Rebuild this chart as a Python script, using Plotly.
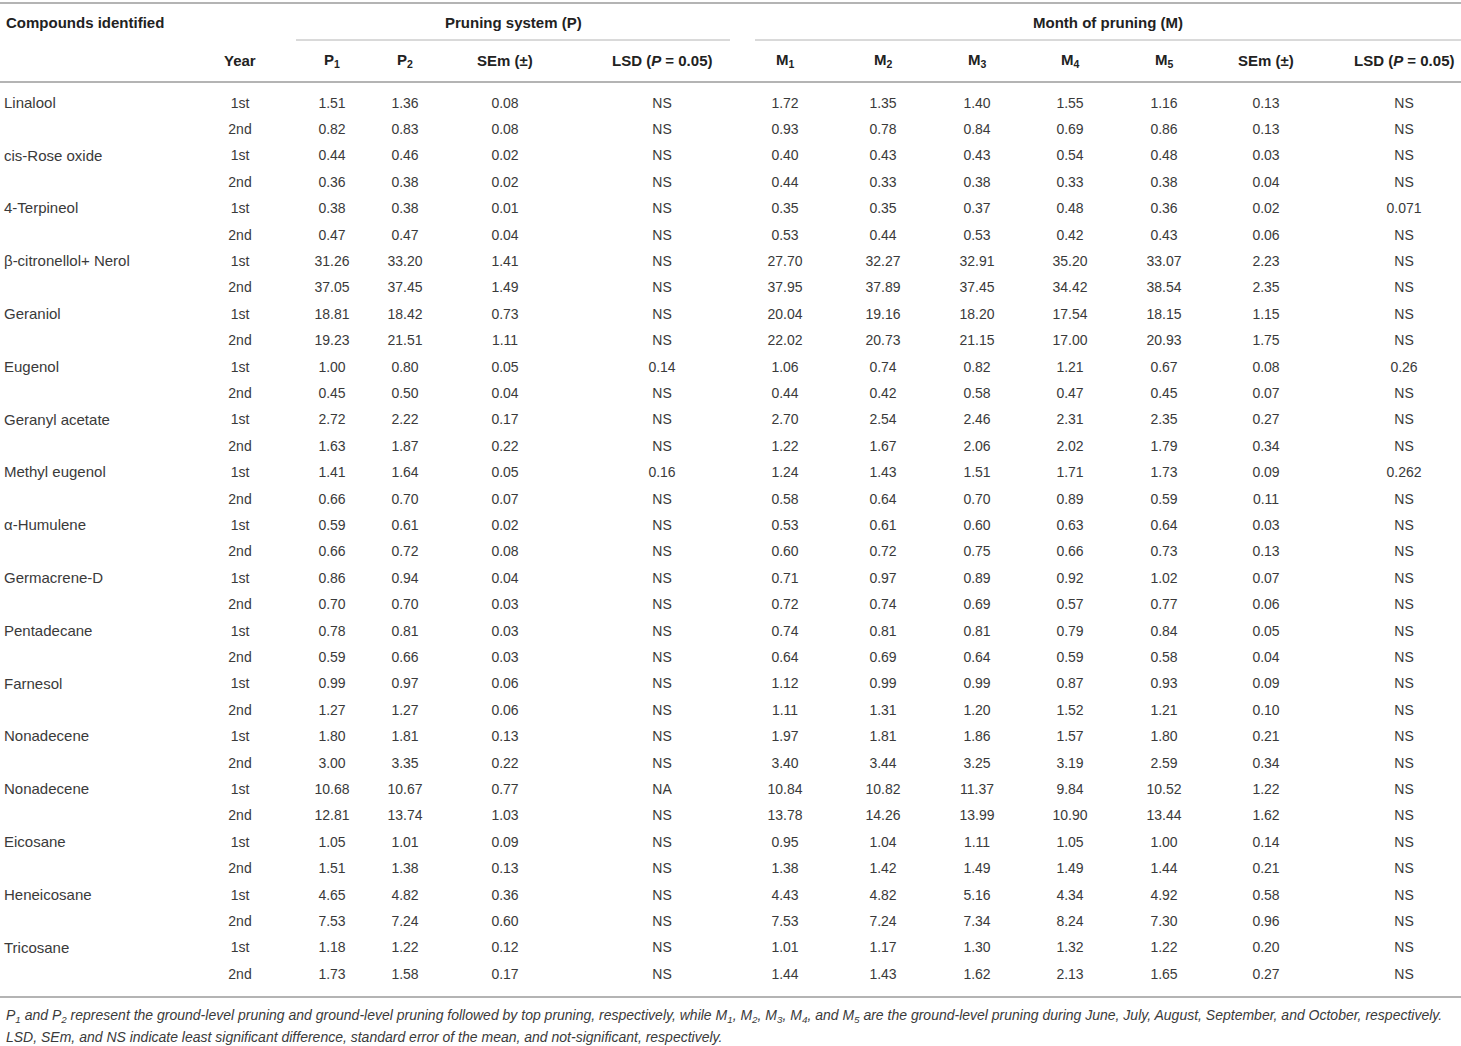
import plotly.graph_objects as go

# ---- table data ---------------------------------------------------------
compounds = [
    "Linalool", "cis-Rose oxide", "4-Terpineol", "β-citronellol+ Nerol",
    "Geraniol", "Eugenol", "Geranyl acetate", "Methyl eugenol",
    "α-Humulene", "Germacrene-D", "Pentadecane", "Farnesol",
    "Nonadecene", "Nonadecene", "Eicosane", "Heneicosane", "Tricosane",
]
years = ["1st", "2nd"] * len(compounds)

p1 = ["1.51", "0.82", "0.44", "0.36", "0.38", "0.47", "31.26", "37.05",
      "18.81", "19.23", "1.00", "0.45", "2.72", "1.63", "1.41", "0.66",
      "0.59", "0.66", "0.86", "0.70", "0.78", "0.59", "0.99", "1.27",
      "1.80", "3.00", "10.68", "12.81", "1.05", "1.51", "4.65", "7.53",
      "1.18", "1.73"]
p2 = ["1.36", "0.83", "0.46", "0.38", "0.38", "0.47", "33.20", "37.45",
      "18.42", "21.51", "0.80", "0.50", "2.22", "1.87", "1.64", "0.70",
      "0.61", "0.72", "0.94", "0.70", "0.81", "0.66", "0.97", "1.27",
      "1.81", "3.35", "10.67", "13.74", "1.01", "1.38", "4.82", "7.24",
      "1.22", "1.58"]
sem_p = ["0.08", "0.08", "0.02", "0.02", "0.01", "0.04", "1.41", "1.49",
         "0.73", "1.11", "0.05", "0.04", "0.17", "0.22", "0.05", "0.07",
         "0.02", "0.08", "0.04", "0.03", "0.03", "0.03", "0.06", "0.06",
         "0.13", "0.22", "0.77", "1.03", "0.09", "0.13", "0.36", "0.60",
         "0.12", "0.17"]
lsd_p = ["NS", "NS", "NS", "NS", "NS", "NS", "NS", "NS",
         "NS", "NS", "0.14", "NS", "NS", "NS", "0.16", "NS",
         "NS", "NS", "NS", "NS", "NS", "NS", "NS", "NS",
         "NS", "NS", "NA", "NS", "NS", "NS", "NS", "NS",
         "NS", "NS"]

m1 = ["1.72", "0.93", "0.40", "0.44", "0.35", "0.53", "27.70", "37.95",
      "20.04", "22.02", "1.06", "0.44", "2.70", "1.22", "1.24", "0.58",
      "0.53", "0.60", "0.71", "0.72", "0.74", "0.64", "1.12", "1.11",
      "1.97", "3.40", "10.84", "13.78", "0.95", "1.38", "4.43", "7.53",
      "1.01", "1.44"]
m2 = ["1.35", "0.78", "0.43", "0.33", "0.35", "0.44", "32.27", "37.89",
      "19.16", "20.73", "0.74", "0.42", "2.54", "1.67", "1.43", "0.64",
      "0.61", "0.72", "0.97", "0.74", "0.81", "0.69", "0.99", "1.31",
      "1.81", "3.44", "10.82", "14.26", "1.04", "1.42", "4.82", "7.24",
      "1.17", "1.43"]
m3 = ["1.40", "0.84", "0.43", "0.38", "0.37", "0.53", "32.91", "37.45",
      "18.20", "21.15", "0.82", "0.58", "2.46", "2.06", "1.51", "0.70",
      "0.60", "0.75", "0.89", "0.69", "0.81", "0.64", "0.99", "1.20",
      "1.86", "3.25", "11.37", "13.99", "1.11", "1.49", "5.16", "7.34",
      "1.30", "1.62"]
m4 = ["1.55", "0.69", "0.54", "0.33", "0.48", "0.42", "35.20", "34.42",
      "17.54", "17.00", "1.21", "0.47", "2.31", "2.02", "1.71", "0.89",
      "0.63", "0.66", "0.92", "0.57", "0.79", "0.59", "0.87", "1.52",
      "1.57", "3.19", "9.84", "10.90", "1.05", "1.49", "4.34", "8.24",
      "1.32", "2.13"]
m5 = ["1.16", "0.86", "0.48", "0.38", "0.36", "0.43", "33.07", "38.54",
      "18.15", "20.93", "0.67", "0.45", "2.35", "1.79", "1.73", "0.59",
      "0.64", "0.73", "1.02", "0.77", "0.84", "0.58", "0.93", "1.21",
      "1.80", "2.59", "10.52", "13.44", "1.00", "1.44", "4.92", "7.30",
      "1.22", "1.65"]
sem_m = ["0.13", "0.13", "0.03", "0.04", "0.02", "0.06", "2.23", "2.35",
         "1.15", "1.75", "0.08", "0.07", "0.27", "0.34", "0.09", "0.11",
         "0.03", "0.13", "0.07", "0.06", "0.05", "0.04", "0.09", "0.10",
         "0.21", "0.34", "1.22", "1.62", "0.14", "0.21", "0.58", "0.96",
         "0.20", "0.27"]
lsd_m = ["NS", "NS", "NS", "NS", "0.071", "NS", "NS", "NS",
         "NS", "NS", "0.26", "NS", "NS", "NS", "0.262", "NS",
         "NS", "NS", "NS", "NS", "NS", "NS", "NS", "NS",
         "NS", "NS", "NS", "NS", "NS", "NS", "NS", "NS",
         "NS", "NS"]

col_headers = ["Year", "P<sub>1</sub>", "P<sub>2</sub>", "SEm (±)",
               "LSD (<i>P</i> = 0.05)",
               "M<sub>1</sub>", "M<sub>2</sub>", "M<sub>3</sub>",
               "M<sub>4</sub>", "M<sub>5</sub>", "SEm (±)",
               "LSD (<i>P</i> = 0.05)"]

footnote = [
    "<i>P<sub>1</sub> and P<sub>2</sub> represent the ground-level pruning and "
    "ground-level pruning followed by top pruning, respectively, while "
    "M<sub>1</sub>, M<sub>2</sub>, M<sub>3</sub>, M<sub>4</sub>, and "
    "M<sub>5</sub> are the ground-level pruning during June, July, August, "
    "September, and October, respectively.</i>",
    "<i>LSD, SEm, and NS indicate least significant difference, standard "
    "error of the mean, and not-significant, respectively.</i>",
]

# ---- layout constants (page pixels) -------------------------------------
W, H = 1461, 1046
FONT = "Liberation Sans"
TXT = "#3a3a3a"
HDR = "#222222"
RULE = "#b4b4b4"

ROW0, ROW_H = 104, 26.4
COL_X = [240, 332, 405, 505, 662, 785, 883, 977, 1070, 1164, 1266, 1404]
columns = [years, p1, p2, sem_p, lsd_p, m1, m2, m3, m4, m5, sem_m, lsd_m]

row_y = [ROW0 + i * ROW_H for i in range(len(years))]

fig = go.Figure()

# compound names (left aligned, on the 1st-year row)
fig.add_trace(go.Scatter(
    x=[4] * len(compounds), y=row_y[::2], text=compounds,
    mode="text", textposition="middle right",
    textfont=dict(family=FONT, size=15, color=TXT),
    hoverinfo="skip", showlegend=False,
))

for cx, vals in zip(COL_X, columns):
    fig.add_trace(go.Scatter(
        x=[cx] * len(vals), y=row_y, text=vals,
        mode="text", textposition="middle center",
        textfont=dict(family=FONT, size=14, color=TXT),
        hoverinfo="skip", showlegend=False,
    ))

# ---- header ------------------------------------------------------------
hdr_font = dict(family=FONT, size=15, color=HDR)
fig.add_annotation(x=4, y=22, text="<b>Compounds identified</b>",
                   xanchor="left", showarrow=False, font=hdr_font)
fig.add_annotation(x=(296 + 730) / 2, y=22, text="<b>Pruning system (P)</b>",
                   showarrow=False, font=hdr_font)
fig.add_annotation(x=(755 + W) / 2, y=22, text="<b>Month of pruning (M)</b>",
                   showarrow=False, font=hdr_font)
for cx, t in zip(COL_X, col_headers):
    fig.add_annotation(x=cx, y=60, text=f"<b>{t}</b>", showarrow=False,
                       font=hdr_font)

# ---- rules -------------------------------------------------------------
rules = [(0, W, 3, 2), (296, 730, 40, 1), (755, W, 40, 1),
         (0, W, 82, 2), (0, W, 997, 2)]
for x0, x1, yy, lw in rules:
    fig.add_shape(type="line", x0=x0, x1=x1, y0=yy, y1=yy,
                  xref="x", yref="y", line=dict(color=RULE, width=lw))

# ---- footnote ----------------------------------------------------------
for i, t in enumerate(footnote):
    fig.add_annotation(x=4, y=1016 + i * 21, text=t, xanchor="left",
                       showarrow=False,
                       font=dict(family=FONT, size=14, color=TXT))

fig.update_layout(
    width=W, height=H,
    margin=dict(l=0, r=0, t=0, b=0),
    paper_bgcolor="white", plot_bgcolor="white",
    xaxis=dict(range=[0, W], visible=False, fixedrange=True),
    yaxis=dict(range=[H, 0], visible=False, fixedrange=True),
)

# drop the browser's default body margin so the figure fills the window
fig.write_html("out.html",
               config={"displayModeBar": False},
               post_script="document.body.style.margin='0';")
